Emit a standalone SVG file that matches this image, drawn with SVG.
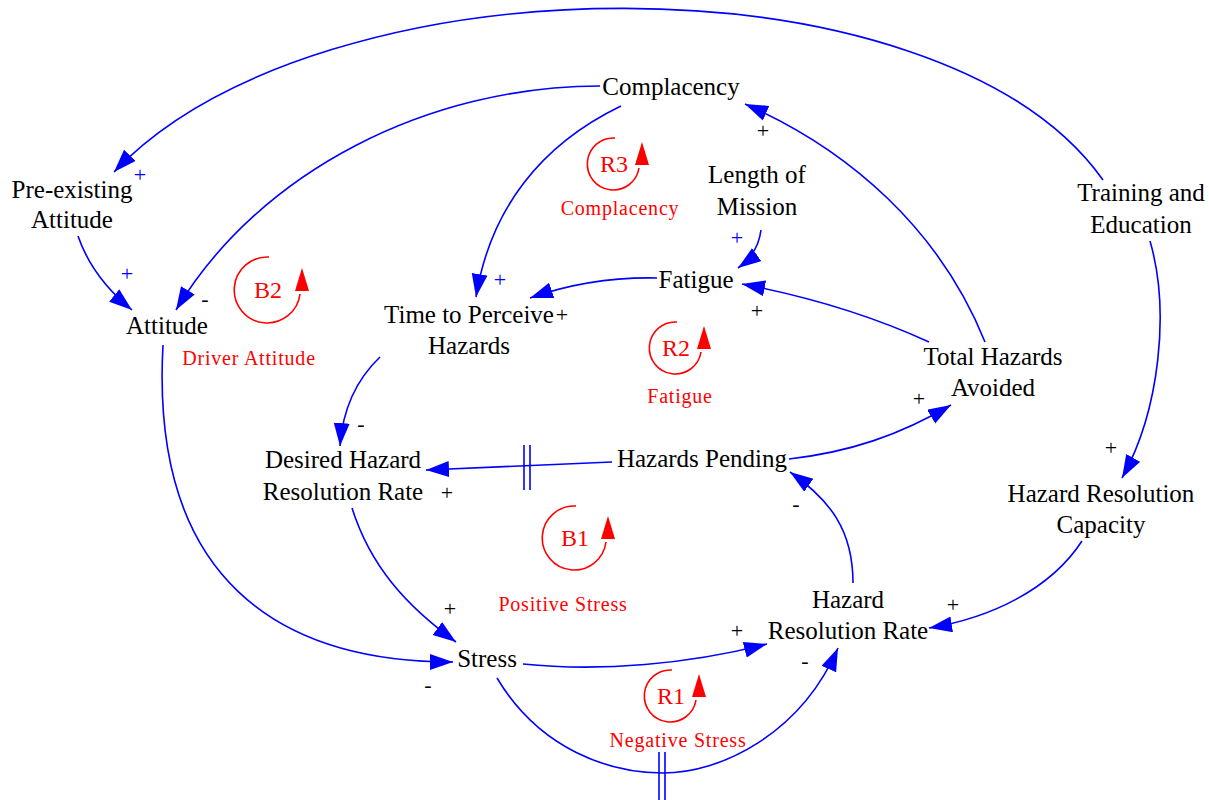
<svg xmlns="http://www.w3.org/2000/svg" width="1209" height="800" viewBox="0 0 1209 800">
<style>
.t { font-family: "Liberation Serif", "Times New Roman", serif; font-size: 25px; fill: #000; text-anchor: middle; }
.lid { font-family: "Liberation Serif", "Times New Roman", serif; font-size: 24px; fill: #f00; text-anchor: middle; }
.lname { font-family: "Liberation Serif", "Times New Roman", serif; font-size: 20px; fill: #f00; text-anchor: middle; letter-spacing: 0.8px; }
.sign { font-family: "Liberation Serif", "Times New Roman", serif; font-size: 22px; fill: #000; text-anchor: middle; }
.sb { font-family: "Liberation Serif", "Times New Roman", serif; font-size: 22px; fill: #00f; text-anchor: middle; }
.link { fill: none; stroke: #00f; stroke-width: 1.6; marker-end: url(#ah); }
.delay { stroke: #00f; stroke-width: 1.6; }
.la { fill: none; stroke: #f00; stroke-width: 1.6; }
.lh { fill: #f00; }
</style>
<defs>
<marker id="ah" markerUnits="userSpaceOnUse" markerWidth="26" markerHeight="18" refX="23" refY="8" orient="auto">
<path d="M0,0 L23,8 L0,16 z" fill="#00f"/>
</marker>
</defs>
<rect width="1209" height="800" fill="#fff"/>

<g id="connectors">
<path class="link" d="M1103,180 C940,-50 320,-45 114,172"/>
<path class="link" d="M600,86 C430,86 260,170 176,310"/>
<path class="link" d="M621,106 C540,145 490,210 476,297"/>
<path class="link" d="M761,230 C759,246 752,258 738,268"/>
<path class="link" d="M657,278 C610,277 570,284 530,298"/>
<path class="link" d="M929,342 C870,315 805,296 742,284"/>
<path class="link" d="M985,342 C940,230 850,150 745,104"/>
<path class="link" d="M78,236 C88,265 105,288 132,310"/>
<path class="link" d="M380,357 C358,378 343,405 340,446"/>
<path class="link" d="M612,462 L426,470"/>
<path class="link" d="M163,345 C150,580 280,662 453,662"/>
<path class="link" d="M352,508 C370,565 405,605 456,642"/>
<path class="link" d="M523,664 C600,672 690,664 767,644"/>
<path class="link" d="M497,678 C540,750 610,773 663,773 C720,773 800,735 838,648"/>
<path class="link" d="M853,583 C853,530 830,500 790,472"/>
<path class="link" d="M789,459 C850,452 900,435 951,405"/>
<path class="link" d="M1150,241 C1170,310 1160,410 1122,478"/>
<path class="link" d="M1082,541 C1050,590 990,618 929,628"/>
<line class="delay" x1="524" y1="445" x2="524" y2="490"/>
<line class="delay" x1="530" y1="445" x2="530" y2="490"/>
<line class="delay" x1="659" y1="752" x2="659" y2="800"/>
<line class="delay" x1="665" y1="752" x2="665" y2="800"/>
<text class="sb" x="140" y="182">+</text>
<text class="sb" x="127" y="281">+</text>
<text class="sign" x="205" y="306">-</text>
<text class="sb" x="500" y="287">+</text>
<text class="sb" x="737" y="245">+</text>
<text class="sign" x="562" y="322">+</text>
<text class="sign" x="757" y="318">+</text>
<text class="sign" x="763" y="138">+</text>
<text class="sign" x="361" y="431">-</text>
<text class="sign" x="447" y="500">+</text>
<text class="sign" x="450" y="616">+</text>
<text class="sign" x="428" y="692">-</text>
<text class="sign" x="737" y="638">+</text>
<text class="sign" x="805" y="668">-</text>
<text class="sign" x="796" y="511">-</text>
<text class="sign" x="919" y="406">+</text>
<text class="sign" x="1111" y="455">+</text>
<text class="sign" x="953" y="612">+</text>
</g>

<g id="n-complacency"><text class="t" x="671" y="95">Complacency</text></g>
<g id="n-preexisting"><text class="t" x="72" y="198">Pre-existing</text><text class="t" x="72" y="228">Attitude</text></g>
<g id="n-attitude"><text class="t" x="167" y="334">Attitude</text></g>
<g id="n-ttp"><text class="t" x="469" y="323">Time to Perceive</text><text class="t" x="469" y="354">Hazards</text></g>
<g id="n-fatigue"><text class="t" x="696" y="288">Fatigue</text></g>
<g id="n-lom"><text class="t" x="757" y="183">Length of</text><text class="t" x="757" y="215">Mission</text></g>
<g id="n-training"><text class="t" x="1141" y="201">Training and</text><text class="t" x="1141" y="233">Education</text></g>
<g id="n-tha"><text class="t" x="993" y="365">Total Hazards</text><text class="t" x="993" y="396">Avoided</text></g>
<g id="n-dhrr"><text class="t" x="343" y="468">Desired Hazard</text><text class="t" x="343" y="500">Resolution Rate</text></g>
<g id="n-hp"><text class="t" x="702" y="467">Hazards Pending</text></g>
<g id="n-hrc"><text class="t" x="1101" y="502">Hazard Resolution</text><text class="t" x="1101" y="533">Capacity</text></g>
<g id="n-hrr"><text class="t" x="848" y="608">Hazard</text><text class="t" x="848" y="639">Resolution Rate</text></g>
<g id="n-stress"><text class="t" x="487" y="667">Stress</text></g>

<g id="loop-r3" transform="translate(614,164)">
<path class="la" d="M1,-26 A26,26 0 1 0 25,4"/><polygon class="lh" points="21,1 35,1 28,-22"/>
<text class="lid" x="0" y="8">R3</text>
<text class="lname" x="6" y="51">Complacency</text>
</g>
<g id="loop-b2" transform="translate(268,290)">
<path class="la" d="M1,-33 A33,33 0 1 0 32,4"/><polygon class="lh" points="27,1 41,1 34,-22"/>
<text class="lid" x="0" y="8">B2</text>
<text class="lname" x="-19" y="75">Driver Attitude</text>
</g>
<g id="loop-r2" transform="translate(676,348)">
<path class="la" d="M1,-26 A26,26 0 1 0 25,4"/><polygon class="lh" points="21,1 35,1 28,-22"/>
<text class="lid" x="0" y="8">R2</text>
<text class="lname" x="4" y="55">Fatigue</text>
</g>
<g id="loop-b1" transform="translate(575,538)">
<path class="la" d="M1,-32 A32,32 0 1 0 31,4"/><polygon class="lh" points="26,1 40,1 33,-22"/>
<text class="lid" x="0" y="8">B1</text>
<text class="lname" x="-12" y="73">Positive Stress</text>
</g>
<g id="loop-r1" transform="translate(671,696)">
<path class="la" d="M1,-26 A26,26 0 1 0 25,4"/><polygon class="lh" points="21,1 35,1 28,-22"/>
<text class="lid" x="0" y="8">R1</text>
<text class="lname" x="7" y="51">Negative Stress</text>
</g>
</svg>
